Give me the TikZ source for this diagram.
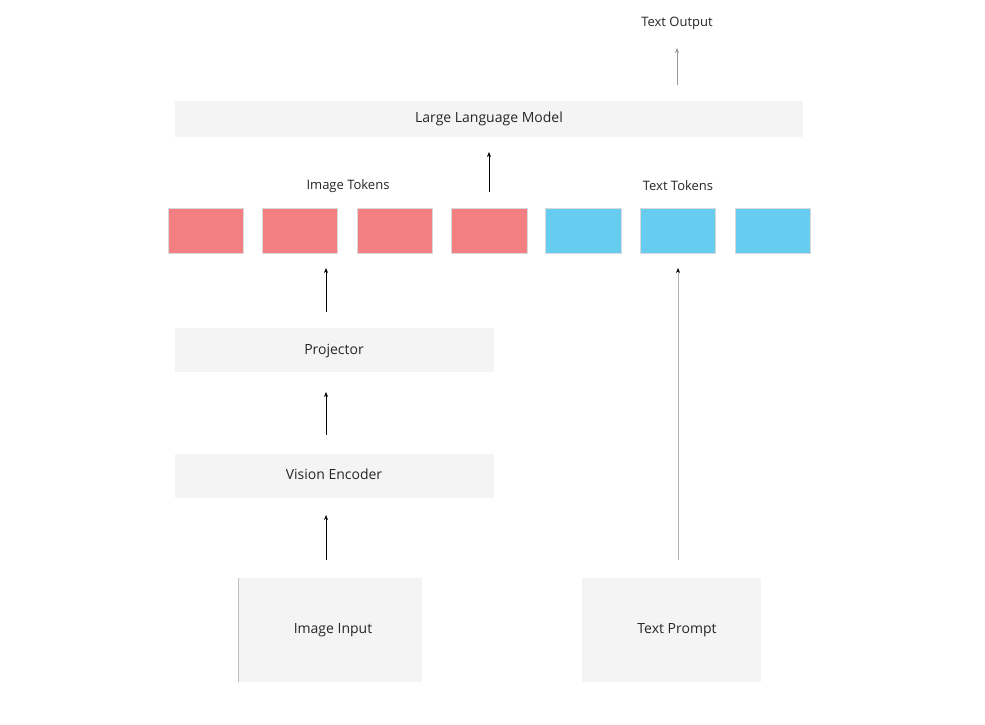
\documentclass[tikz,border=0pt]{standalone}
\usepackage{fontspec}
\setmainfont{Open Sans}
\begin{document}
\begin{tikzpicture}[x=1pt,y=-1pt,
  box/.style={fill=boxgray,draw=none,inner sep=0pt},
  lbl/.style={font=\fontsize{13}{15}\selectfont,text=black!85},
  arr/.style={-{Stealth[length=5pt,width=4pt]},line width=0.7pt,black},
  tokr/.style={fill=tokred,draw=black!15,line width=0.3pt},
  tokb/.style={fill=tokblue,draw=black!15,line width=0.3pt}]
\usetikzlibrary{arrows.meta}
\definecolor{boxgray}{HTML}{F4F4F4}
\definecolor{tokred}{HTML}{F28083}
\definecolor{tokblue}{HTML}{66CDF0}
\useasboundingbox[fill=white] (0,0) rectangle (985,724);
\fill[boxgray] (175,101) rectangle (803,137);
\node[lbl,font=\fontsize{14}{16}\selectfont] (llm) at (489,119) {Large Language Model};
\node[lbl] (out) at (677,23) {Text Output};
\coordinate (llmtop) at (677,85);
\draw[arr,black!40] (llmtop) -- (677,48);
\coordinate (tokt) at (489,192);
\draw[arr] (tokt) -- (489,152);
\node[lbl] (it) at (348,186) {Image Tokens};
\node[lbl] (tt) at (678,186) {Text Tokens};
\foreach \a/\b [count=\i] in {168/243,262/337,357/432,451/527}
  \draw[tokr] (\a,208) rectangle (\b,253);
\foreach \a/\b in {545/621,640/715,735/810}
  \draw[tokb] (\a,208) rectangle (\b,253);
\fill[boxgray] (175,328) rectangle (494,372);
\node[lbl,font=\fontsize{14}{16}\selectfont] (proj) at (334,351) {Projector};
\fill[boxgray] (175,454) rectangle (494,498);
\node[lbl,font=\fontsize{14}{16}\selectfont] (ve) at (334,474) {Vision Encoder};
\fill[boxgray] (238,578) rectangle (422,682);
\draw[black!25,line width=0.6pt] (238,578) -- (238,682);
\node[lbl,font=\fontsize{14}{16}\selectfont] (ii) at (333,630) {Image Input};
\fill[boxgray] (582,578) rectangle (761,682);
\node[lbl,font=\fontsize{14}{16}\selectfont] (tp) at (677,630) {Text Prompt};
\coordinate (a1) at (326,312); \coordinate (a1e) at (326,268);
\coordinate (a2) at (326,435); \coordinate (a2e) at (326,392);
\coordinate (a3) at (326,560); \coordinate (a3e) at (326,515);
\draw[arr] (a1) -- (a1e);
\draw[arr] (a2) -- (a2e);
\draw[arr] (a3) -- (a3e);
\coordinate (tps) at (678,560); \coordinate (tpe) at (678,268);
\draw[arr,black!30,line width=0.6pt,-{Stealth[length=5pt,width=4pt,black]}] (tps) -- (tpe);
\end{tikzpicture}
\end{document}
